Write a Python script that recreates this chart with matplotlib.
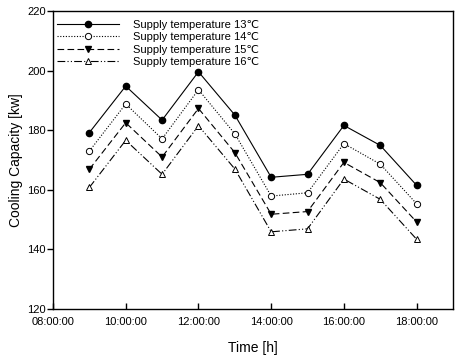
import matplotlib
matplotlib.use("Agg")
import matplotlib.pyplot as plt

plt.rcParams['font.family'] = ['Liberation Sans', 'DejaVu Sans']

# data
hours = [9, 10, 11, 12, 13, 14, 15, 16, 17, 18]
cap_13 = [179.2, 194.8, 183.4, 199.6, 185.1, 164.2, 165.2, 181.6, 174.9, 161.5]
cap_14 = [173.0, 188.8, 177.1, 193.6, 178.8, 157.9, 159.0, 175.5, 168.6, 155.3]
cap_15 = [166.9, 182.5, 171.0, 187.3, 172.5, 151.8, 152.7, 169.2, 162.4, 149.2]
cap_16 = [160.8, 176.6, 165.2, 181.5, 167.0, 145.9, 146.9, 163.6, 156.8, 143.4]

tick_hours = [8, 10, 12, 14, 16, 18]
tick_labels = ["08:00:00", "10:00:00", "12:00:00", "14:00:00", "16:00:00", "18:00:00"]
y_ticks = [120, 140, 160, 180, 200, 220]

fig = plt.figure(figsize=(4.59, 3.57), dpi=100)
ax = fig.add_axes([53 / 459, 1 - 309 / 357, 400 / 459, 298 / 357])

lw = 0.8
ms = 4.5
ax.plot(hours, cap_13, color="black", linestyle="-", lw=lw, marker="o",
        ms=ms, mfc="black", mec="black", label="Supply temperature 13℃")
ax.plot(hours, cap_14, color="black", linestyle=(0, (1, 1.5)), lw=lw, marker="o",
        ms=ms, mfc="white", mec="black", mew=0.7, label="Supply temperature 14℃")
ax.plot(hours, cap_15, color="black", linestyle=(0, (6, 3)), lw=lw, marker="v",
        ms=ms + 0.5, mfc="black", mec="black", label="Supply temperature 15℃")
ax.plot(hours, cap_16, color="black", linestyle=(0, (7, 2, 1, 2, 1, 2)), lw=lw, marker="^",
        ms=ms + 0.5, mfc="white", mec="black", mew=0.7, label="Supply temperature 16℃")

ax.set_xlim(8, 19)
ax.set_ylim(120, 220)
ax.set_xticks(tick_hours)
ax.set_xticklabels(tick_labels)
ax.set_yticks(y_ticks)
ax.tick_params(axis="x", direction="in", length=4, width=1, labelsize=8, pad=6)
ax.tick_params(axis="y", direction="out", length=4, width=1, labelsize=8, pad=1)
for s in ax.spines.values():
    s.set_linewidth(1)

ax.set_xlabel("Time [h]", fontsize=10, labelpad=10)
ax.set_ylabel("Cooling Capacity [kw]", fontsize=10, labelpad=3)

ax.legend(loc="upper left", frameon=False, fontsize=8, handlelength=5.5,
          handletextpad=1.3, labelspacing=0.22, borderaxespad=0.0,
          bbox_to_anchor=(0.0, 0.985))

fig.savefig("out.png", dpi=100)
